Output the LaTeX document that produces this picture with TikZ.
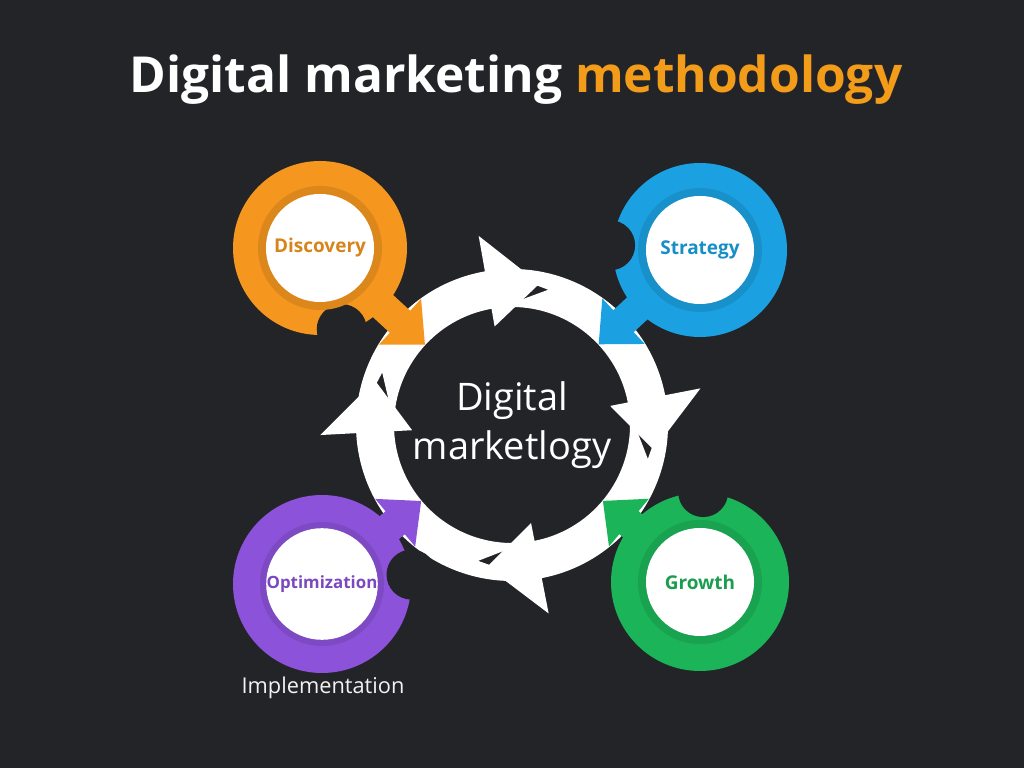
\documentclass[tikz,border=0pt]{standalone}
\usepackage{fontspec}
\setmainfont{Open Sans}
\usetikzlibrary{arrows.meta}

\definecolor{bg}{HTML}{232428}
\definecolor{dorange}{HTML}{F5961E}
\definecolor{dblue}{HTML}{1BA1E2}
\definecolor{dpurple}{HTML}{8C52D9}
\definecolor{dgreen}{HTML}{1CB458}
\definecolor{torange}{HTML}{F39C1A}

\tikzset{
  badge/.style={circle, fill=white, minimum size=2.7cm, inner sep=0pt,
    text=#1!88!black, font=\bfseries\fontsize{13.5}{16}\selectfont},
  pointer/.style={#1, line width=0.75cm,
    -{Triangle[width=1.5cm, length=0.85cm]}},
  shadowring/.style={fill=#1!90!black},
}

\begin{document}
\begin{tikzpicture}[x=0.025cm, y=0.025cm]
\fill[bg] (0,0) rectangle (1024,768);
\node[text=white, font=\bfseries\fontsize{35.3}{40}\selectfont] (title) at (516,688)
  {Digital marketing \textcolor{torange}{methodology}};

% white cycle of four arrows
\foreach \b/\p in {100/183, 11/100, -79/11, -177/-79}
  \fill[white, shift={(512,343)}] (\p-4:156) arc[start angle=\p-4, end angle=\b, radius=156]
    -- (\b:192) -- (\b-21:144) -- (\b:100) -- (\b:118)
    arc[start angle=\b, end angle=\p-4, radius=118] -- (\p-25:140) -- cycle;
\node[circle, minimum size=5.9cm, text=white, align=center,
  font=\fontsize{27}{35}\selectfont] (hub) at (512,343) {Digital\\marketlogy};

% Discovery
\coordinate (discC) at (320,520);
\fill[dorange] (discC) circle (87);
\draw[pointer=dorange] (discC) -- (hub);
\fill[bg] (discC) ++(-75:84) circle (25);
\fill[shadowring=dorange] (discC) circle (62);
\node[badge=dorange] (disc) at (discC) {Discovery};

% Strategy
\coordinate (stratC) at (700,518);
\fill[dblue] (stratC) circle (87);
\draw[pointer=dblue] (stratC) -- (hub);
\fill[bg] (stratC) ++(177:90) circle (25);
\fill[shadowring=dblue] (stratC) circle (62);
\node[badge=dblue] (strat) at (stratC) {Strategy};

% Optimization
\coordinate (optC) at (322,184);
\fill[dpurple] (optC) circle (89);
\draw[pointer=dpurple] (optC) -- (hub);
\fill[bg] (optC) ++(6:90) circle (25);
\fill[shadowring=dpurple] (optC) circle (62);
\node[badge=dpurple, font=\bfseries\fontsize{12}{14}\selectfont] (opt) at (optC) {Optimization};

% Growth
\coordinate (growC) at (700,186);
\fill[dgreen] (growC) circle (89);
\draw[pointer=dgreen] (growC) -- (hub);
\fill[bg] (growC) ++(88:90) circle (25);
\fill[shadowring=dgreen] (growC) circle (62);
\node[badge=dgreen] (grow) at (growC) {Growth};

\node[text=white!90!gray, font=\fontsize{15.5}{18}\selectfont] (impl) at (323,80) {Implementation};
\end{tikzpicture}
\end{document}
